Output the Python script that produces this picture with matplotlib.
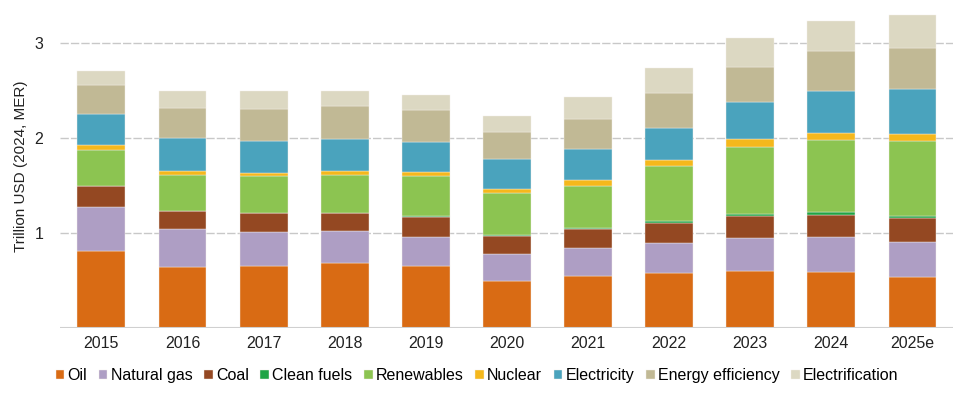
import matplotlib
matplotlib.use('Agg')
import matplotlib.pyplot as plt
import numpy as np

plt.rcParams['font.family'] = ['Liberation Sans', 'DejaVu Sans']

years = ["2015", "2016", "2017", "2018", "2019", "2020", "2021", "2022", "2023", "2024", "2025e"]

oil = [0.81, 0.64, 0.65, 0.68, 0.65, 0.50, 0.55, 0.58, 0.60, 0.59, 0.54]
natural_gas = [0.46, 0.40, 0.36, 0.34, 0.31, 0.28, 0.29, 0.32, 0.35, 0.37, 0.37]
coal = [0.22, 0.19, 0.20, 0.19, 0.21, 0.19, 0.20, 0.21, 0.23, 0.23, 0.25]
clean_fuels = [0.005, 0.005, 0.005, 0.005, 0.005, 0.005, 0.01, 0.02, 0.02, 0.03, 0.02]
renewables = [0.38, 0.38, 0.38, 0.40, 0.43, 0.45, 0.45, 0.58, 0.71, 0.76, 0.79]
nuclear = [0.05, 0.04, 0.04, 0.04, 0.04, 0.04, 0.06, 0.06, 0.08, 0.07, 0.07]
electricity = [0.33, 0.35, 0.33, 0.33, 0.31, 0.31, 0.32, 0.34, 0.39, 0.45, 0.48]
energy_efficiency = [0.30, 0.31, 0.34, 0.35, 0.34, 0.29, 0.32, 0.36, 0.37, 0.42, 0.43]
electrification = [0.15, 0.18, 0.19, 0.16, 0.16, 0.17, 0.23, 0.27, 0.30, 0.31, 0.35]

series = [
    ("Oil", oil, "#d96b14"),
    ("Natural gas", natural_gas, "#ae9ec4"),
    ("Coal", coal, "#944822"),
    ("Clean fuels", clean_fuels, "#1fa445"),
    ("Renewables", renewables, "#8cc451"),
    ("Nuclear", nuclear, "#f5b81c"),
    ("Electricity", electricity, "#4aa3bd"),
    ("Energy efficiency", energy_efficiency, "#c1b995"),
    ("Electrification", electrification, "#dcd8c2"),
]

fig = plt.figure(figsize=(9.6, 3.94), dpi=100)
ax = fig.add_axes([60 / 960, 1 - 328 / 394, 893 / 960, 323 / 394])

x = np.arange(len(years))
bottom = np.zeros(len(years))
for name, vals, color in series:
    ax.bar(x, vals, width=0.59, bottom=bottom, color=color, label=name,
           edgecolor="#f4efe8", linewidth=0.3, zorder=3)
    bottom += np.array(vals)

ax.set_xlim(-0.51, 10.5)
ax.set_ylim(0, 3.4)
ax.set_yticks([1, 2, 3])
ax.set_xticks(x)
ax.set_xticklabels(years)
ax.yaxis.grid(True, color="#c8c8c8", linestyle=(0, (6, 1.5)), linewidth=1.0, zorder=0)
ax.axhline(0, color="#d0d0d0", linewidth=1.5, zorder=4)
for s in ax.spines.values():
    s.set_visible(False)
ax.tick_params(axis='both', length=0, labelsize=11.5, colors="#222222")
ax.tick_params(axis='x', pad=6)
ax.tick_params(axis='y', pad=12)
ax.set_ylabel("Trillion USD (2024, MER)", fontsize=11, color="#222222", labelpad=5)

fig.legend(loc="center", bbox_to_anchor=(0.497, 0.047), ncol=9, frameon=False,
           fontsize=11.5, handlelength=0.55, handleheight=0.55, handletextpad=0.2,
           columnspacing=0.72, borderaxespad=0)

fig.savefig("out.png", dpi=100)
